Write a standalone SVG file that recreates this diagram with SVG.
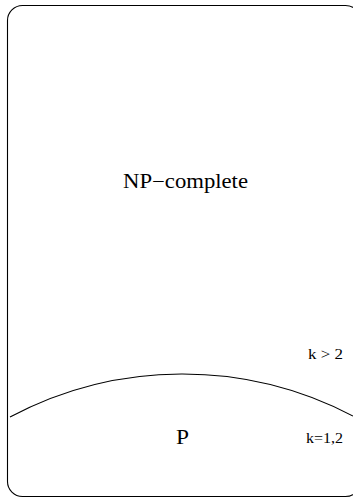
<svg xmlns="http://www.w3.org/2000/svg" width="353" height="498" viewBox="0 0 353 498">
<style>
.b{fill:none;stroke:#000;stroke-width:1.1}
.t{font-family:"Liberation Serif","Times New Roman",serif;fill:#000}
</style>
<rect width="353" height="498" fill="#fff"/>
<g id="np-region">
<rect class="b" x="7.5" y="5.5" width="353" height="491" rx="15" ry="15"/>
<text class="t" x="123" y="188" font-size="20" textLength="125" lengthAdjust="spacingAndGlyphs">NP−complete</text>
<text class="t" x="308" y="359" font-size="14" textLength="35" lengthAdjust="spacingAndGlyphs">k &gt; 2</text>
</g>
<g id="p-region">
<text class="t" x="176" y="444" font-size="20" textLength="13" lengthAdjust="spacingAndGlyphs">P</text>
<text class="t" x="306" y="443" font-size="14" textLength="37" lengthAdjust="spacingAndGlyphs">k=1,2</text>
</g>
<g id="connectors">
<path class="b" d="M10,417 A367,367 0 0 1 353,416"/>
</g>
</svg>
